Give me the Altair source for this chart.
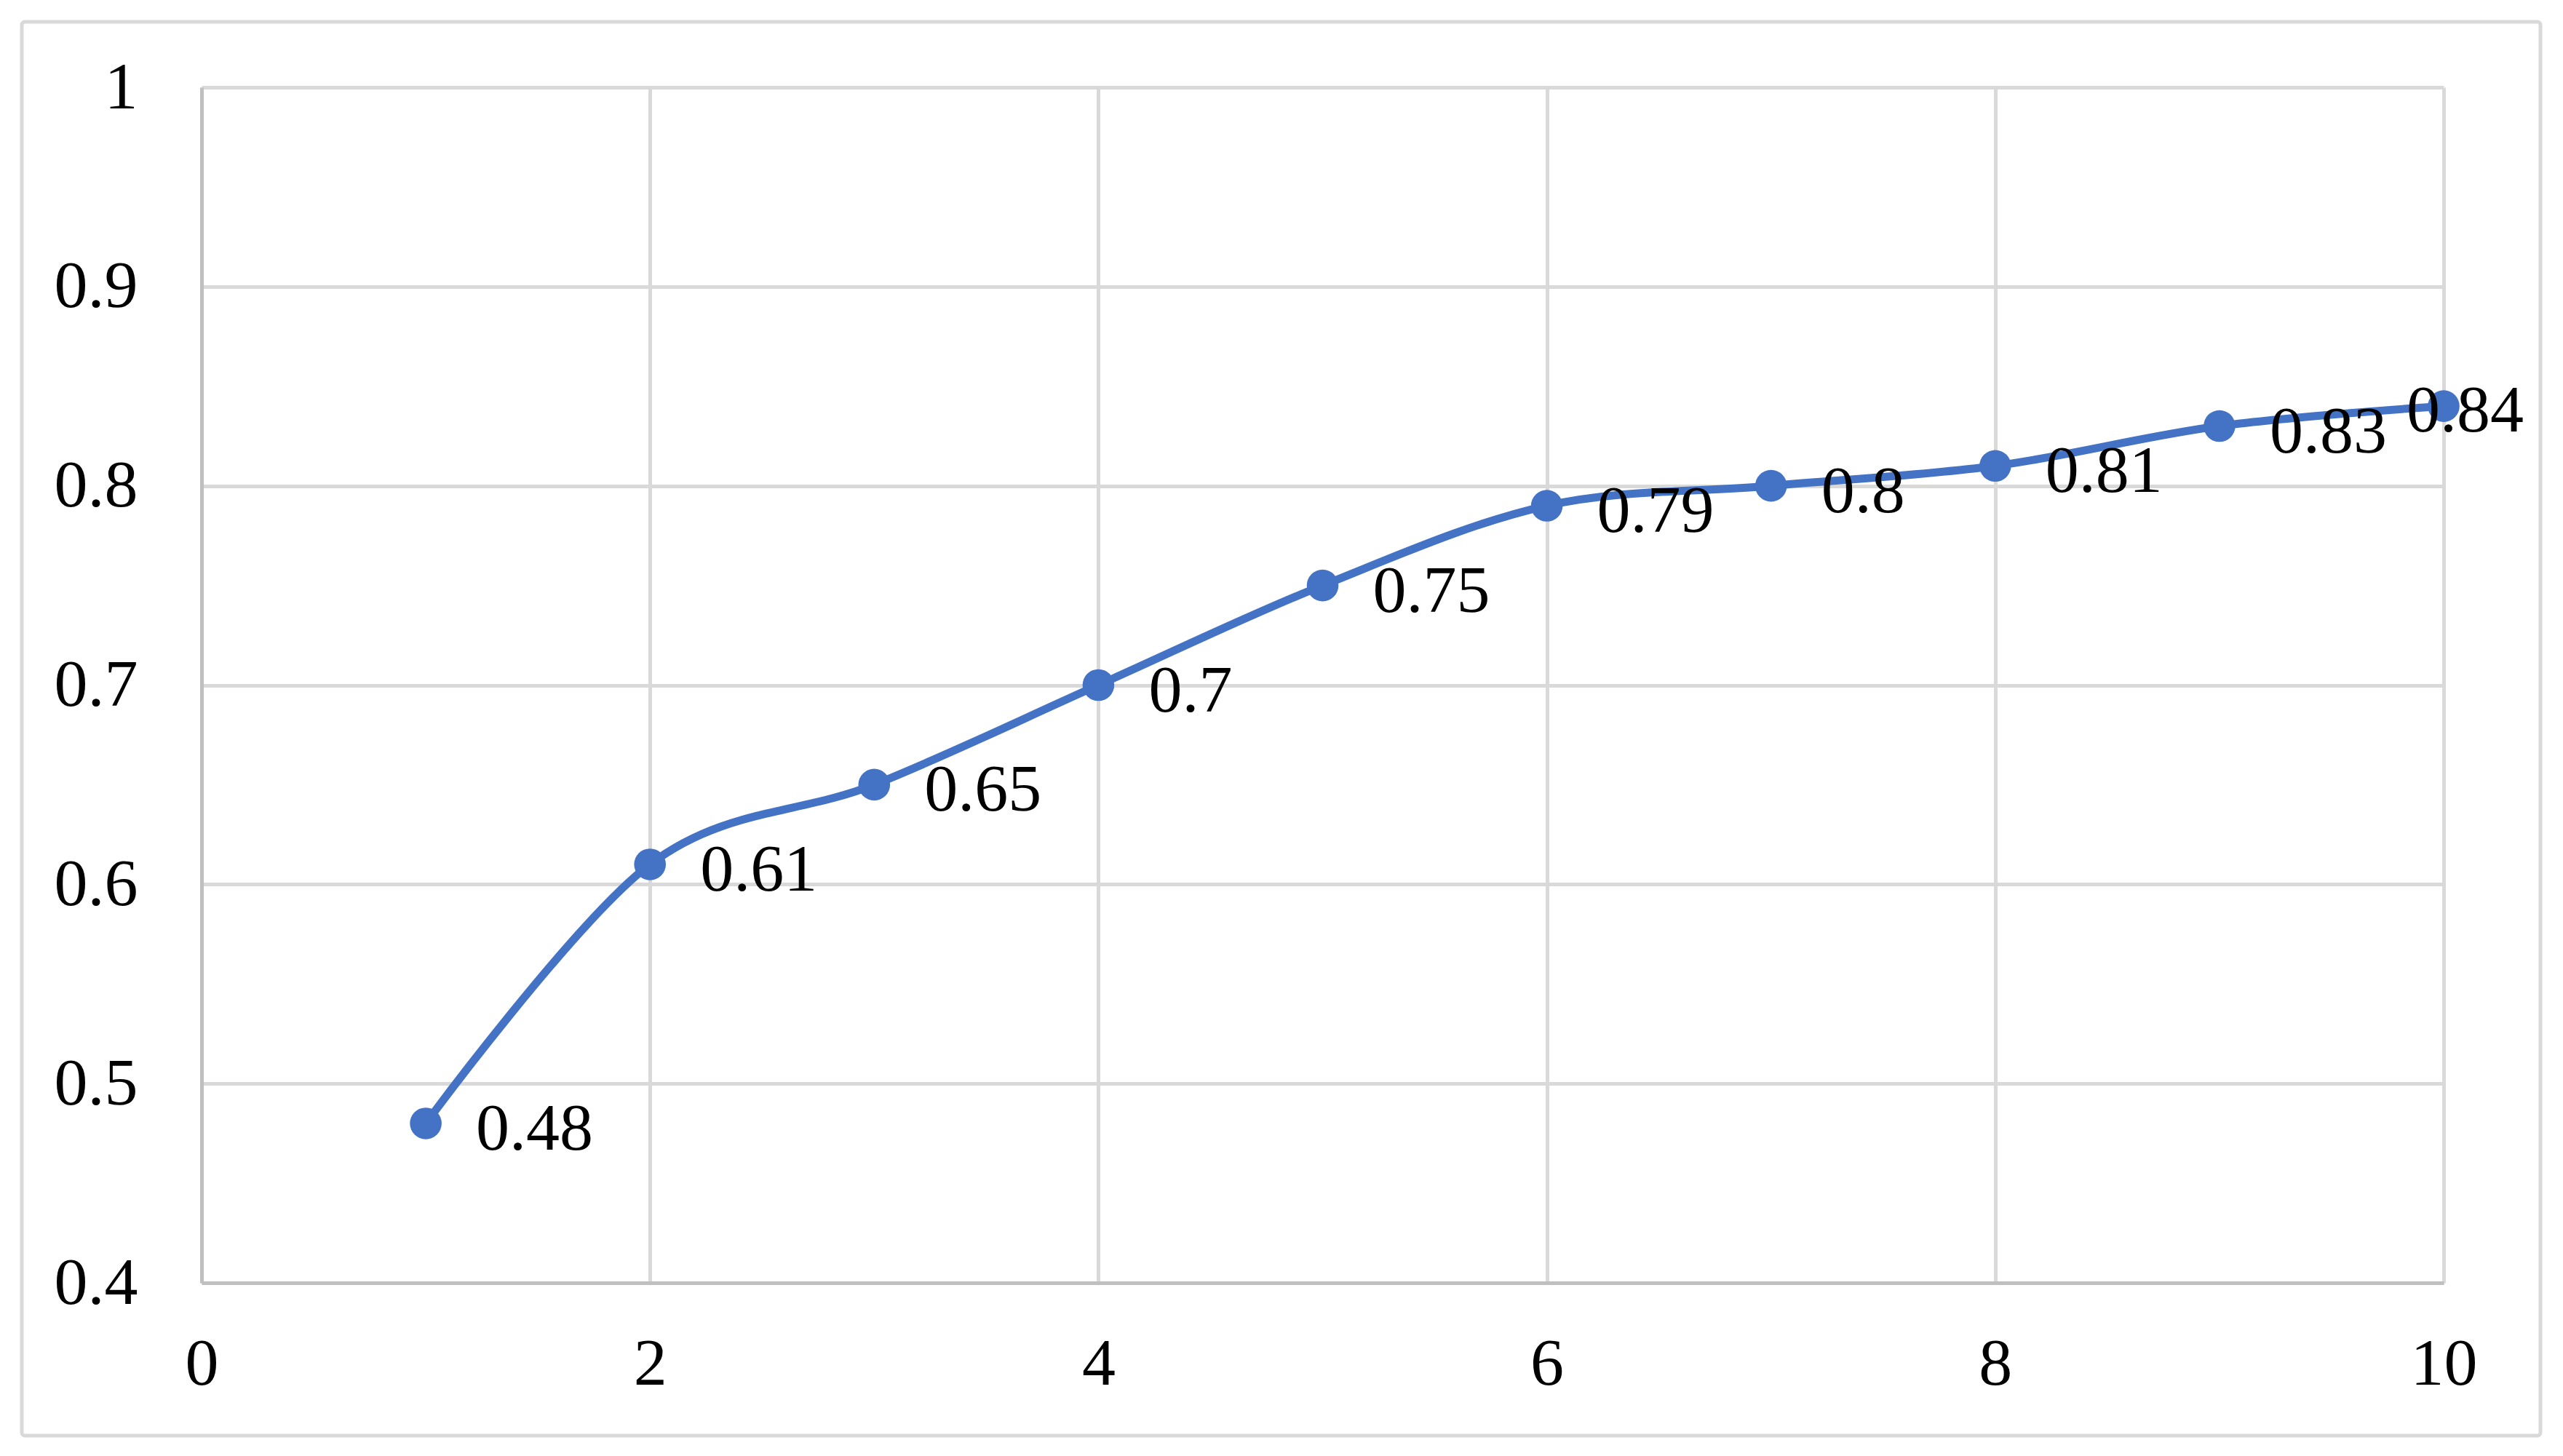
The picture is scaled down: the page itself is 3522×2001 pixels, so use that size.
import altair as alt
import pandas as pd

x_vals = [1, 2, 3, 4, 5, 6, 7, 8, 9, 10]
y_vals = [0.48, 0.61, 0.65, 0.70, 0.75, 0.79, 0.80, 0.81, 0.83, 0.84]
label_txt = ["0.48", "0.61", "0.65", "0.7", "0.75", "0.79", "0.8", "0.81", "0.83", "0.84"]
x_ticks = [0, 2, 4, 6, 8, 10]
y_ticks = [0.4, 0.5, 0.6, 0.7, 0.8, 0.9, 1.0]

df = pd.DataFrame({"x": x_vals, "y": y_vals, "lab": label_txt})

FONT = "Liberation Serif"
BLUE = "#4472C4"
W, H = 3081, 1643

xs = alt.Scale(domain=[0, 10], nice=False)
ys = alt.Scale(domain=[0.4, 1.0], nice=False, zero=False)

base = alt.Chart(df)

border = alt.Chart(pd.DataFrame({"a": [0]})).mark_rect(
    fill=None, stroke="#d9d9d9", strokeWidth=5, cornerRadius=4, clip=False
).encode(
    x=alt.value(-247), x2=alt.value(3214), y=alt.value(-90), y2=alt.value(1853)
)

line = base.mark_line(color=BLUE, strokeWidth=11, interpolate="cardinal", tension=0).encode(
    x=alt.X("x:Q", scale=xs, axis=alt.Axis(values=x_ticks, format="d", title=None,
                                           labelPadding=66, ticks=False, labelFlush=False,
                                           labelFont=FONT, labelFontSize=92, labelColor="black",
                                           domainColor="#bfbfbf", domainWidth=5,
                                           gridColor="#d9d9d9", gridWidth=5)),
    y=alt.Y("y:Q", scale=ys, axis=alt.Axis(values=y_ticks, format=".1~f", title=None,
                                           labelPadding=88, ticks=False, labelFlush=False,
                                           labelFont=FONT, labelFontSize=92, labelColor="black",
                                           domainColor="#bfbfbf", domainWidth=5,
                                           gridColor="#d9d9d9", gridWidth=5)),
)

pts = base.mark_point(filled=True, shape="circle", size=1900, color=BLUE, opacity=1).encode(
    x=alt.X("x:Q", scale=xs), y=alt.Y("y:Q", scale=ys)
)

labels = base.transform_filter("datum.x < 10").mark_text(
    align="left", baseline="middle", dx=69, dy=8, font=FONT, fontSize=92, color="black"
).encode(x=alt.X("x:Q", scale=xs), y=alt.Y("y:Q", scale=ys), text="lab:N")

last_label = base.transform_filter("datum.x == 10").mark_text(
    align="left", baseline="middle", dx=-51, dy=7, font=FONT, fontSize=92, color="black"
).encode(x=alt.X("x:Q", scale=xs), y=alt.Y("y:Q", scale=ys), text="lab:N")

chart = alt.layer(border, line, pts, labels, last_label).properties(
    width=W, height=H,
    background="white",
    padding={"left": 269, "top": 112, "right": 150, "bottom": 240},
    autosize=alt.AutoSizeParams(type="none"),
).configure_view(stroke=None).configure_axis(grid=True)

chart.save("out.html", embed_options={"renderer": "svg", "actions": False})
